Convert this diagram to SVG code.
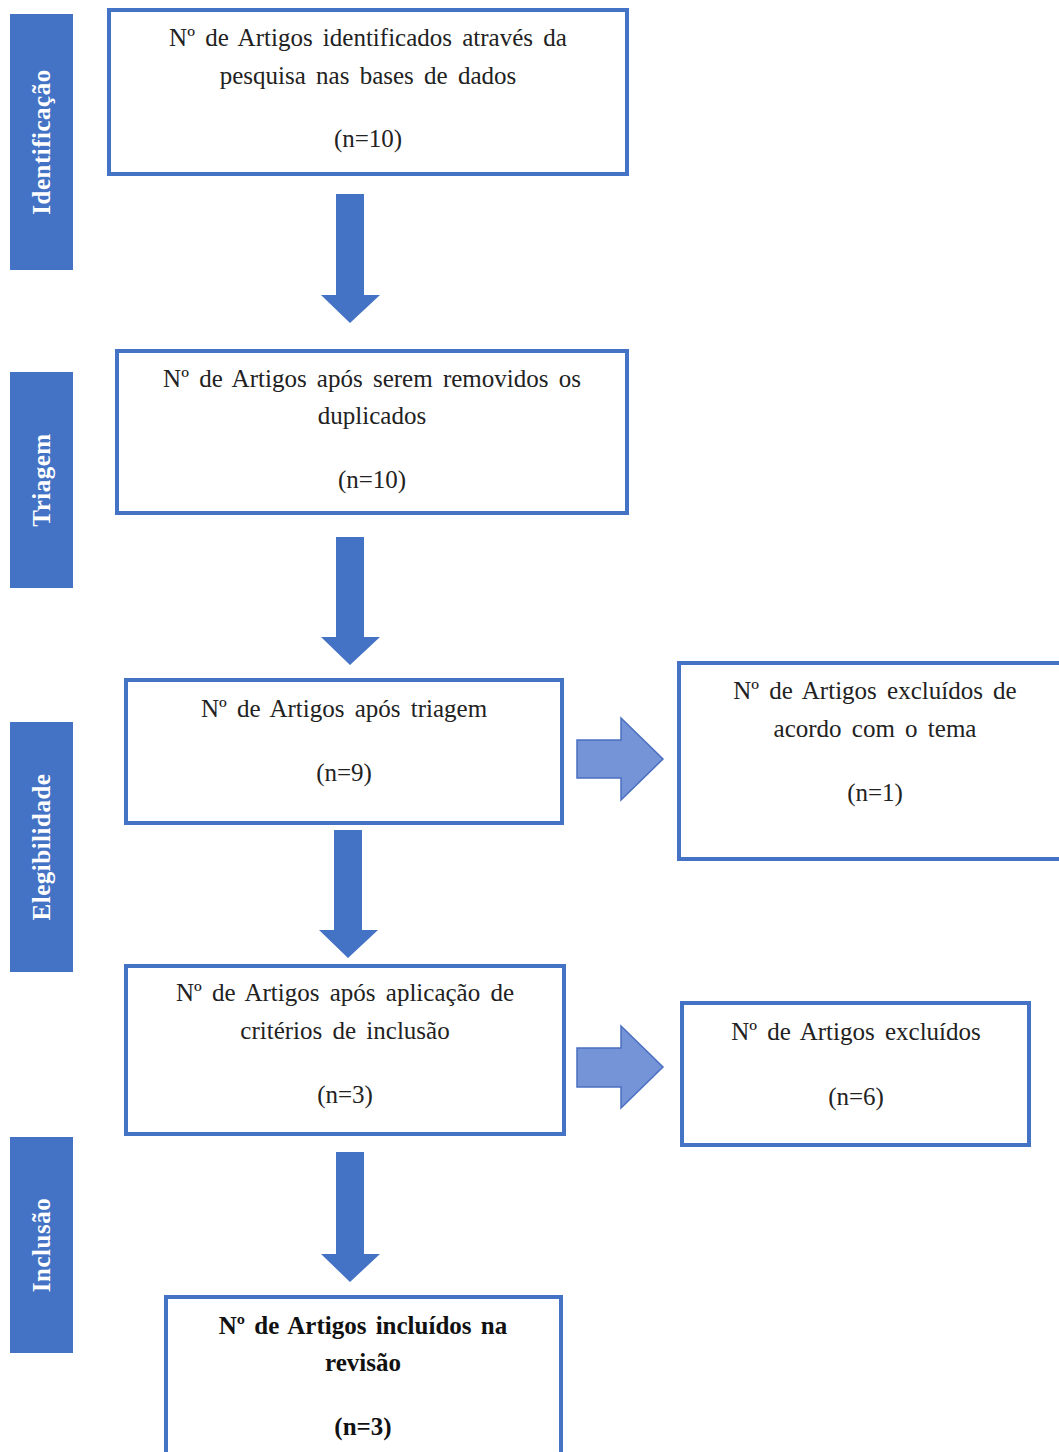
<svg xmlns="http://www.w3.org/2000/svg" width="1059" height="1452" viewBox="0 0 1059 1452">
<style>
.side{fill:#4472C4}
.sidet{fill:#fff;font-family:"Liberation Serif",serif;font-weight:bold;font-size:25px;text-anchor:middle;letter-spacing:0.5px}
.box{fill:#fff;stroke:#4472C4;stroke-width:4}
.t{font-family:"Liberation Serif",serif;font-size:25px;fill:#222;text-anchor:middle;word-spacing:4px}
.b{font-weight:bold;fill:#111;word-spacing:3px}
.down{fill:#4472C4}
.right{fill:#7594D8;stroke:#4A6FC0;stroke-width:1.5}
</style>
<rect width="1059" height="1452" fill="#fff"/>
<g id="stages">
<g id="stage-identificacao"><rect class="side" x="10" y="14" width="63" height="256"/><text class="sidet" transform="translate(50,142) rotate(-90)">Identificação</text></g>
<g id="stage-triagem"><rect class="side" x="10" y="372" width="63" height="216"/><text class="sidet" transform="translate(50,480) rotate(-90)">Triagem</text></g>
<g id="stage-elegibilidade"><rect class="side" x="10" y="722" width="63" height="250"/><text class="sidet" transform="translate(50,847) rotate(-90)">Elegibilidade</text></g>
<g id="stage-inclusao"><rect class="side" x="10" y="1137" width="63" height="216"/><text class="sidet" transform="translate(50,1245) rotate(-90)">Inclusão</text></g>
</g>
<g id="connectors">
<path class="down" d="M336,194H364V295H380L350,323L321,295H336Z"/>
<path class="down" d="M336,537H364V637H380L350,665L321,637H336Z"/>
<path class="down" d="M334,830H362V930H378L348,958L319,930H334Z"/>
<path class="down" d="M336,1152H364V1254H380L350,1282L321,1254H336Z"/>
<path class="right" d="M577,740H621V718L663,759L621,800V778H577Z"/>
<path class="right" d="M577,1048H621V1026L663,1067L621,1108V1087H577Z"/>
</g>
<g id="box-identificados"><rect class="box" x="109" y="10" width="518" height="164"/>
<text class="t" x="368" y="46">Nº de Artigos identificados através da</text>
<text class="t" x="368" y="84">pesquisa nas bases de dados</text>
<text class="t" x="368" y="147">(n=10)</text></g>
<g id="box-duplicados"><rect class="box" x="117" y="351" width="510" height="162"/>
<text class="t" x="372" y="387">Nº de Artigos após serem removidos os</text>
<text class="t" x="372" y="424">duplicados</text>
<text class="t" x="372" y="488">(n=10)</text></g>
<g id="box-triagem"><rect class="box" x="126" y="680" width="436" height="143"/>
<text class="t" x="344" y="717">Nº de Artigos após triagem</text>
<text class="t" x="344" y="781">(n=9)</text></g>
<g id="box-excluidos-tema"><rect class="box" x="679" y="663" width="384" height="196"/>
<text class="t" x="875" y="699">Nº de Artigos excluídos de</text>
<text class="t" x="875" y="737">acordo com o tema</text>
<text class="t" x="875" y="801">(n=1)</text></g>
<g id="box-criterios"><rect class="box" x="126" y="966" width="438" height="168"/>
<text class="t" x="345" y="1001">Nº de Artigos após aplicação de</text>
<text class="t" x="345" y="1039">critérios de inclusão</text>
<text class="t" x="345" y="1103">(n=3)</text></g>
<g id="box-excluidos"><rect class="box" x="682" y="1003" width="347" height="142"/>
<text class="t" x="856" y="1040">Nº de Artigos excluídos</text>
<text class="t" x="856" y="1105">(n=6)</text></g>
<g id="box-incluidos"><rect class="box" x="166" y="1297" width="395" height="160"/>
<text class="t b" x="363" y="1334">Nº de Artigos incluídos na</text>
<text class="t b" x="363" y="1371">revisão</text>
<text class="t b" x="363" y="1435">(n=3)</text></g>
</svg>
